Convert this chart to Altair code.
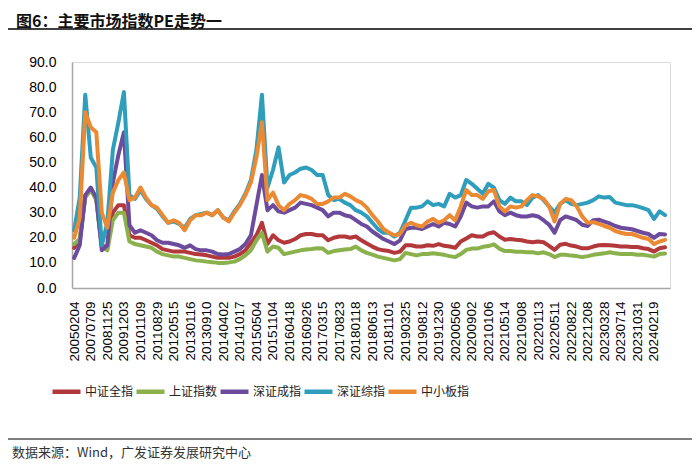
import altair as alt
import pandas as pd

title_text = "图6：主要市场指数PE走势一"
source_text = "数据来源：Wind，广发证券发展研究中心"

dates = ["20050204", "20070709", "20081125", "20091203", "20101109", "20110829",
         "20120515", "20130116", "20130910", "20140402", "20141017", "20150504",
         "20151104", "20160418", "20160926", "20170315", "20170823", "20180118",
         "20180613", "20181101", "20190325", "20190812", "20191230", "20200506",
         "20200902", "20210106", "20210514", "20210908", "20220113", "20220511",
         "20220822", "20221208", "20230328", "20230714", "20231031", "20240219"]

names = ["中证全指", "上证指数", "深证成指", "深证综指", "中小板指"]
colors = ["#B3383C", "#8AB14C", "#6C4B9C", "#2F9EBC", "#EC8A33"]

csi_all = [16, 19, 36.5, 39.5, 35.5, 17, 16, 30, 33, 33,
           21, 20, 20, 19, 18, 17, 15.5, 15, 14.5, 14.5,
           14.5, 14, 13.5, 13.3, 13, 12.5, 12, 12, 12, 12.5,
           13.5, 15, 18, 21, 26, 17.5, 21, 19, 18, 18.5,
           19.5, 21, 21.5, 21.5, 21, 21, 19, 20, 20.5, 20.5,
           20, 20.5, 19, 17.7, 16.5, 15.5, 15, 14.7, 14, 14.5,
           17, 17, 16.5, 16.5, 17, 16.8, 17.5, 16.8, 16.5, 16,
           18.5, 19.7, 21, 20.5, 20.5, 21.7, 22.2, 20.5, 19.2, 19.5,
           19.2, 19, 18.5, 18.2, 18.5, 18.2, 16.8, 15.2, 17.2, 17.6,
           16.9, 16.5, 15.8, 15.8, 16.5, 17, 17.1, 17, 16.8, 16.5,
           16.5, 16.3, 16.3, 15.8, 15.5, 14.5, 15.8, 16.2]

sse = [17.5, 19.5, 36, 39, 35, 16.5, 15, 27, 30, 30,
       18.5, 17.5, 17, 16.5, 16, 14.5, 13.5, 13, 12.5, 12.5,
       12, 11.5, 11, 10.8, 10.5, 10.3, 10, 10, 10.2, 10.5,
       11.5, 13, 15, 19, 22, 14.5, 16.5, 16, 13.5, 14,
       14.5, 15, 15.3, 15.5, 15.8, 15.7, 14, 14.7, 15, 15.3,
       15.5, 16.5, 15, 14, 13.3, 12.5, 12, 11.5, 11, 11.5,
       14, 13.5, 13, 13.5, 13.5, 13.8, 13.5, 13.2, 12.7, 12.3,
       13.5, 15.2, 15.7, 15.7, 16.4, 16.7, 17.4, 15.7, 14.7, 14.7,
       14.4, 14.4, 14.2, 14.2, 13.8, 14.2, 13.5, 12.3, 13.2, 13.2,
       12.9, 12.7, 12.3, 12.7, 13.2, 13.5, 13.8, 14.2, 13.8, 13.5,
       13.5, 13.5, 13.2, 13.2, 12.9, 12.5, 13.5, 13.7]

szse_comp = [12, 17, 37, 40, 36, 15, 17, 42, 53, 62,
             25, 22, 23, 22, 21, 19, 18, 18, 17.5, 17,
             16, 17, 15.5, 15, 15, 14.5, 13.5, 13.3, 13.5, 14.5,
             15.5, 17.5, 21, 33, 45, 31, 33, 30.5, 30, 31,
             32, 34, 33.5, 33, 32, 31, 28.5, 30, 30, 29,
             28.5, 27, 25.5, 24.5, 22.5, 21, 19.5, 18.5, 17.5, 19,
             23.5, 24, 24, 23.5, 24.5, 25.5, 24.5, 26, 25.5, 24.5,
             28.5, 34, 32.5, 32, 32.5, 32.5, 34.5, 30.5, 29, 30,
             29, 28.5, 28.5, 29, 28.5, 27, 25.2, 22, 27, 28.5,
             27.8, 27, 25.2, 24.7, 27, 27.2, 26.4, 25.7, 24.7, 24,
             23.7, 23.4, 22.7, 22, 21.5, 20, 21.5, 21.3]

szse_all = [23, 36, 77, 52, 48, 17, 26, 55, 66, 78,
            37, 35.5, 39, 35.5, 33, 31.5, 28.5, 26, 26.5, 25.5,
            24, 27.5, 29, 29.5, 30, 29, 31, 28, 27, 30.5,
            33.5, 37.5, 43, 55, 77, 40, 47, 56, 42, 45,
            46, 47.5, 48, 47, 45, 45, 37, 35, 35.5, 34,
            33, 31, 30, 28.5, 26, 23.5, 22, 22, 20.5, 22,
            27, 32, 32, 32.5, 34.5, 33, 33.5, 32.5, 37.5, 36,
            37, 43, 41.5, 39.5, 37.5, 41.5, 40, 35, 33.5, 36,
            34.5, 34.5, 33, 36, 37, 35, 32.5, 30, 33.5, 35,
            33.5, 33, 33.5, 34, 35, 36.5, 36, 36.2, 34, 33.5,
            33, 33, 32.5, 31.8, 31, 27.5, 30.5, 29]

sme = [20, 28, 70, 64, 62, 30, 24, 38, 43, 46,
       35, 36, 40, 36, 33, 32, 29, 26, 27, 26,
       23, 27, 29, 29, 30, 29, 31, 28, 26.5, 30,
       33, 37, 42, 52, 66, 35, 38, 33, 31, 33.5,
       35, 37, 36.5, 35.5, 33.5, 33.5, 34.5, 36, 36, 37.5,
       36.5, 35, 34, 32, 29, 26.5, 23.5, 22, 21, 21.5,
       25, 26, 25, 24.5, 26.5, 27.5, 26, 27, 29, 27,
       32.5, 39, 37, 37, 35.5, 38.5, 39, 32.5, 30.5, 32.5,
       32, 32.5, 35, 37, 36.5, 35.5, 32.5, 26.5, 33.5, 35.5,
       35, 32.5, 28.5, 26, 26.2, 25.5, 24.7, 24, 22.7, 22,
       21.5, 21.5, 20.8, 20, 19.5, 17.5, 18.5, 19.2]

series = dict(zip(names, [csi_all, sse, szse_comp, szse_all, sme]))

rows = []
for n, vals in series.items():
    for i, v in enumerate(vals):
        rows.append({"idx": i, "pe": v, "series": n})
df = pd.DataFrame(rows)

step = 3
tick_vals = [step * k for k in range(len(dates))]
label_expr = "[" + ",".join("'%s'" % d for d in dates) + "][round(datum.value/%d)]" % step

x_enc = alt.X("idx:Q",
              scale=alt.Scale(domain=[-0.4, 107.9], nice=False, zero=False),
              axis=alt.Axis(values=tick_vals, labelExpr=label_expr, labelAngle=270,
                            labelFont="Liberation Sans", labelFontSize=13.5, labelColor="#000",
                            ticks=False, grid=False, domainColor="#A6A6A6", domainWidth=1.5,
                            labelPadding=13, labelOverlap=False, title=None))
y_enc = alt.Y("pe:Q",
              scale=alt.Scale(domain=[0, 90], nice=False),
              axis=alt.Axis(values=list(range(0, 91, 10)), format=".1f",
                            labelFont="Liberation Sans", labelFontSize=14, labelColor="#000",
                            ticks=False, grid=False, domainColor="#A6A6A6", domainWidth=1.5,
                            labelPadding=16, title=None))
color_enc = alt.Color("series:N",
                      scale=alt.Scale(domain=names, range=colors),
                      legend=alt.Legend(orient="none", legendX=-22, legendY=313,
                                        direction="horizontal", title=None,
                                        symbolType="stroke", symbolSize=784,
                                        symbolStrokeWidth=4.5,
                                        labelFont="Noto Sans CJK SC", labelFontSize=12,
                                        labelColor="#222", labelOffset=2,
                                        columnPadding=-7))

base = alt.Chart(df)
layers = []
for n in names:
    layers.append(
        base.transform_filter(alt.datum.series == n)
        .mark_line(strokeWidth=4, strokeJoin="round", strokeCap="round")
        .encode(x=x_enc, y=y_enc, color=color_enc, order="idx:Q")
    )

deco = alt.Chart(pd.DataFrame({"k": [0]}))
top_rule = deco.mark_rule(color="#000", strokeWidth=1.5).encode(
    x=alt.value(-67), x2=alt.value(625), y=alt.value(-33))
bottom_rule = deco.mark_rule(color="#000", strokeWidth=1.2).encode(
    x=alt.value(-67), x2=alt.value(625), y=alt.value(377))
title_mark = alt.Chart(pd.DataFrame({"t": [title_text]})).mark_text(
    align="left", baseline="alphabetic", font="Noto Sans CJK SC", fontSize=16,
    fontWeight="bold", color="#111").encode(
    text="t:N", x=alt.value(-56), y=alt.value(-35.5))
source_mark = alt.Chart(pd.DataFrame({"t": [source_text]})).mark_text(
    align="left", baseline="middle", font="Noto Sans CJK SC", fontSize=13,
    color="#333").encode(
    text="t:N", x=alt.value(-60), y=alt.value(391))

chart = alt.layer(*layers, top_rule, bottom_rule, title_mark, source_mark).properties(
    width=598, height=226,
    autosize=alt.AutoSizeParams(type="none"),
    padding={"left": 64, "top": 54, "right": 22, "bottom": 172},
).configure_view(stroke=None).configure(background="white")

chart.save("out.html", embed_options={"renderer": "svg", "actions": False})
